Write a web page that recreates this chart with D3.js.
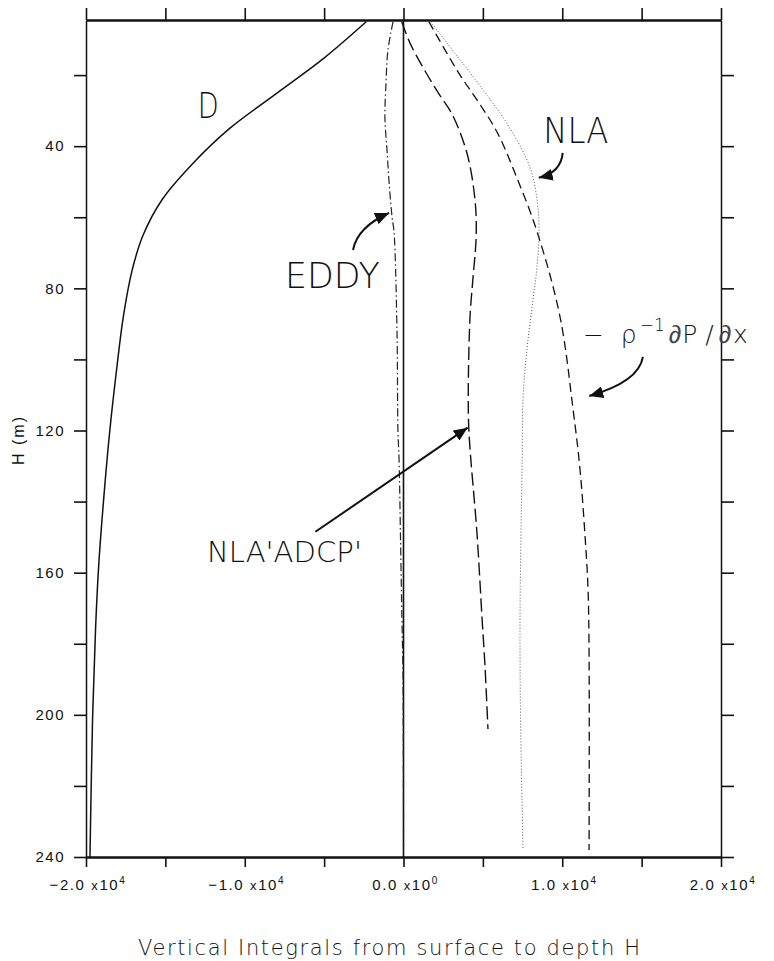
<!DOCTYPE html>
<html><head><meta charset="utf-8">
<script src="https://cdnjs.cloudflare.com/ajax/libs/d3/7.8.5/d3.min.js"></script>
<style>
body{margin:0;background:#fff;}
svg{display:block;}
text{font-family:"Liberation Sans",Arial,sans-serif;fill:#111;}
.lbl{font-family:"DejaVu Sans","Liberation Sans",sans-serif;font-weight:200;}
.sym{font-family:"Liberation Sans",Arial,sans-serif;font-weight:400;fill:#444;}
</style>
</head><body>
<svg id="chart" width="774" height="961"></svg>
<script>
// ---- data (depth H in m, vertical integral values) ----
const depthD    = [5,15,25,35,45,55,65,75,88,102,120,140,158,176,200,240];
const valD      = [-2350,-4950,-7950,-10950,-13300,-15200,-16400,-17100,-17650,-18050,-18500,-18900,-19200,-19400,-19580,-19750];

const depthEddy = [5,13,22,32,41,50,60,64,92,120,128,150,173,189,240];
const valEddy   = [-660,-980,-1100,-1170,-1040,-910,-720,-600,-410,-350,-280,-190,-100,-30,0];

const depthAdcp = [5,11,18,25,31,42,55,65,78,88,110,121,149,173,186,204];
const valAdcp   = [-110,410,1250,2190,3060,4000,4500,4580,4360,4190,4080,4130,4630,4950,5130,5320];

const depthDpdx = [5,20,27,36,49,64,88,114,131,150,164,183,238];
const valDpdx   = [1600,3560,4630,5890,7150,8410,9860,10680,11120,11440,11620,11690,11690];

const depthNla  = [5,11,23,35,46,55,64,74,83,97,111,130,149,173,200,238];
const valNla    = [1700,2740,4820,6710,7970,8410,8540,8410,8160,7780,7530,7470,7400,7340,7370,7530];

const xTicks      = [-20000,-15000,-10000,-5000,0,5000,10000,15000,20000];
const xTickLabels = [-20000,-10000,0,10000,20000];
const yTicks      = [20,40,60,80,100,120,140,160,180,200,220,240];
const yTickLabels = [40,80,120,160,200,240];

// annotation anchors in data coordinates [value, depth]
const labelD    = [-12300, 32];
const labelEddy = [-4480, 80];
const labelNla  = [10850, 39];
const labelAdcp = [-7500, 157];
const labelDpdx = [11300, 95.5];
const arrowEddy = [[-3180,69.2],[-2900,62.7],[-910,58.8]];
const arrowNla  = [[10030,41.9],[9910,47.5],[8520,48.9]];
const arrowDpdx = [[15080,99.3],[14830,106.3],[11700,110.3]];
const arrowAdcp = [[-5550,148.5],[4040,119.2]];

// ---- drawing ----
const svg = d3.select("#chart");
const x = d3.scaleLinear().domain([-20000,20000]).range([86,721]);
const y = d3.scaleLinear().domain([4.5,240]).range([20,857]);

svg.append("defs").append("marker")
  .attr("id","head").attr("markerUnits","userSpaceOnUse")
  .attr("markerWidth",16).attr("markerHeight",12)
  .attr("refX",14).attr("refY",6).attr("orient","auto")
  .append("path").attr("d","M0,0 L14,6 L0,12 Z").attr("fill","#111");

function styleAxis(g, w){
  g.attr("font-family",null).attr("font-size",null);
  g.select(".domain").attr("stroke","#111").attr("stroke-width",w);
  g.selectAll(".tick line").attr("stroke","#111").attr("stroke-width",1.6);
}

// left axis
const gl = svg.append("g").attr("transform",`translate(${x(-20000)},0)`)
  .call(d3.axisLeft(y).tickValues(yTicks).tickSize(12).tickSizeOuter(0).tickPadding(9)
        .tickFormat(d => yTickLabels.includes(d) ? d : ""));
styleAxis(gl,1.5);
gl.selectAll(".tick text").attr("font-size",15).attr("letter-spacing",1.5).attr("fill","#111");

// right axis
const gr = svg.append("g").attr("transform",`translate(${x(20000)},0)`)
  .call(d3.axisRight(y).tickValues(yTicks).tickSize(13).tickSizeOuter(0).tickFormat(""));
styleAxis(gr,1.5);

// top axis
const gt = svg.append("g").attr("transform",`translate(0,${y(4.5)})`)
  .call(d3.axisTop(x).tickValues(xTicks).tickSize(12).tickSizeOuter(0).tickFormat(""));
styleAxis(gt,2.4);

// bottom axis
const gb = svg.append("g").attr("transform",`translate(0,${y(240)})`)
  .call(d3.axisBottom(x).tickValues(xTicks).tickSize(10).tickSizeOuter(0).tickFormat(""));
styleAxis(gb,2.4);

// bottom tick labels  "m.m x10^e"
xTickLabels.forEach(v => {
  const mant = v === 0 ? "0.0" : (v/10000).toFixed(1).replace("-","\u2212");
  const ex = v === 0 ? "0" : "4";
  const t = svg.append("text").attr("x", x(v) + 2).attr("y", 890)
    .attr("text-anchor","middle").attr("font-size",15).attr("letter-spacing",1.6);
  t.append("tspan").text(mant + " ");
  t.append("tspan").attr("font-size",13).text("x");
  t.append("tspan").text("10");
  t.append("tspan").attr("font-size",10).attr("dy",-6).text(ex);
});

// zero line
svg.append("line").attr("x1",x(0)).attr("x2",x(0)).attr("y1",y(4.5)).attr("y2",y(240))
  .attr("stroke","#111").attr("stroke-width",1.6);

// series
const series = [
  {d:depthD,    v:valD,    dash:null,          w:1.5, c:"#111"},
  {d:depthEddy, v:valEddy, dash:"8,3,1.5,3",   w:1.2, c:"#222"},
  {d:depthAdcp, v:valAdcp, dash:"13,5",        w:1.4, c:"#111"},
  {d:depthDpdx, v:valDpdx, dash:"9,5",         w:1.3, c:"#111"},
  {d:depthNla,  v:valNla,  dash:"1,2",         w:1.0, c:"#555"}
];
const line = d3.line().x(p => x(p[0])).y(p => y(p[1])).curve(d3.curveCatmullRom.alpha(0.5));
series.forEach(s => {
  svg.append("path").datum(s.v.map((v,i) => [v, s.d[i]]))
    .attr("d", line).attr("fill","none").attr("stroke", s.c)
    .attr("stroke-width", s.w).attr("stroke-dasharray", s.dash);
});

// arrows
function curvedArrow(a){
  const [p0,p1,p2] = a.map(p => [x(p[0]), y(p[1])]);
  svg.append("path").attr("d",`M${p0[0]},${p0[1]} Q${p1[0]},${p1[1]} ${p2[0]},${p2[1]}`)
    .attr("fill","none").attr("stroke","#111").attr("stroke-width",2).attr("marker-end","url(#head)");
}
curvedArrow(arrowEddy);
curvedArrow(arrowNla);
curvedArrow(arrowDpdx);
svg.append("line").attr("x1",x(arrowAdcp[0][0])).attr("y1",y(arrowAdcp[0][1]))
  .attr("x2",x(arrowAdcp[1][0])).attr("y2",y(arrowAdcp[1][1]))
  .attr("stroke","#111").attr("stroke-width",2).attr("marker-end","url(#head)");

// labels
function label(pos, txt, size, len){
  return svg.append("text").attr("class","lbl").attr("x",x(pos[0])).attr("y",y(pos[1]))
    .attr("text-anchor","middle").attr("font-size",size)
    .attr("textLength",len).attr("lengthAdjust","spacingAndGlyphs").text(txt);
}
label(labelD,"D",36,21);
label(labelEddy,"EDDY",36,95);
label(labelNla,"NLA",36,65);
label(labelAdcp,"NLA'ADCP'",28,155);

const tp = svg.append("text").attr("class","lbl").attr("x",x(labelDpdx[0])).attr("y",y(labelDpdx[1]))
  .attr("font-size",25);
tp.append("tspan").text("\u2212");
tp.append("tspan").attr("dx",17).text("\u03C1");
tp.append("tspan").attr("font-size",17).attr("dy",-12).attr("dx",3).text("\u22121");
tp.append("tspan").attr("class","sym").attr("dy",12).attr("dx",4).text("\u2202");
tp.append("tspan").attr("dx",1).text("P");
tp.append("tspan").attr("dx",8).text("/");
tp.append("tspan").attr("class","sym").attr("dx",5).text("\u2202");
tp.append("tspan").attr("dx",2).text("x");

// axis titles
svg.append("text").attr("transform","translate(24,440) rotate(-90)")
  .attr("text-anchor","middle").attr("font-size",16).attr("letter-spacing",2)
  .text("H (m)");
svg.append("text").attr("class","lbl").attr("x",389).attr("y",955)
  .attr("text-anchor","middle").attr("font-size",21)
  .attr("textLength",502).attr("lengthAdjust","spacing")
  .text("Vertical Integrals from surface to depth H");
</script>
</body></html>
